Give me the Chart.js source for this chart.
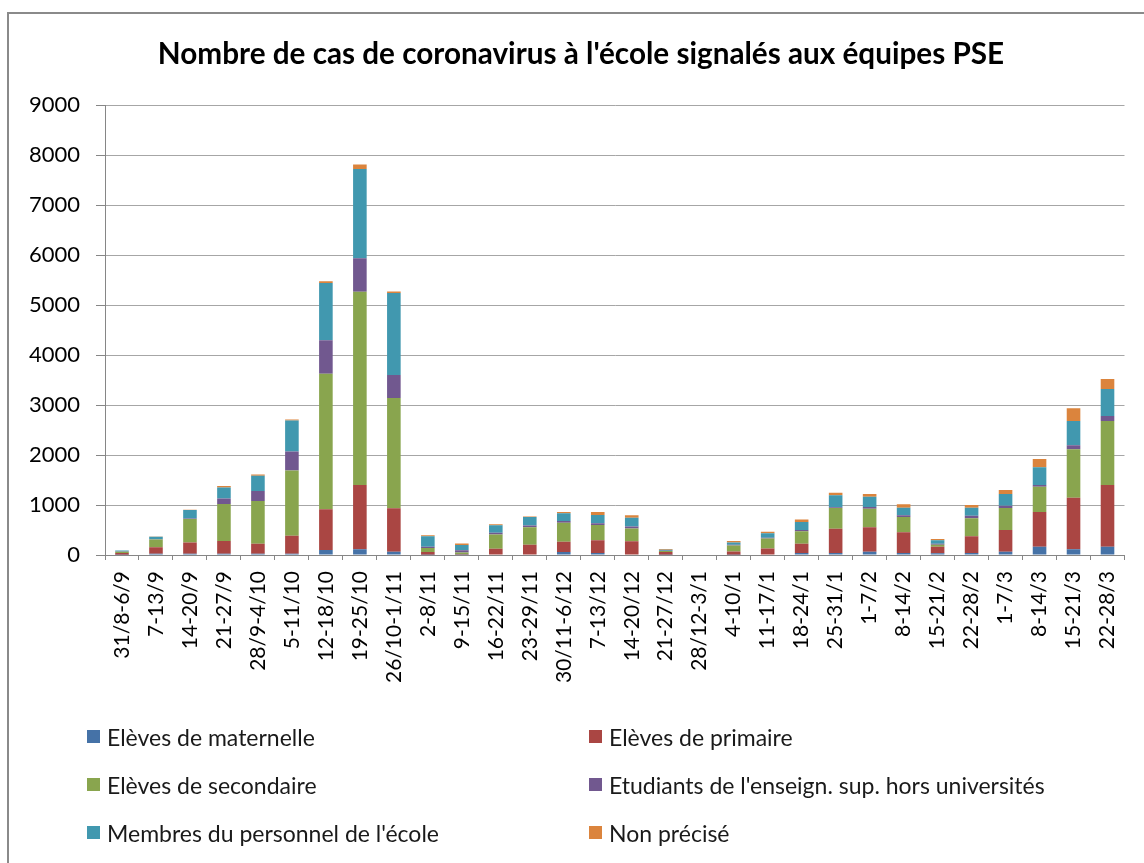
<!DOCTYPE html>
<html lang="fr">
<head>
<meta charset="utf-8">
<title>Cas de coronavirus PSE</title>
<script src="https://cdn.jsdelivr.net/npm/chart.js@4.4.1/dist/chart.umd.min.js"></script>
<style>
	body { margin: 0; background: #fff; }
	.wrap { position: relative; width: 1144px; height: 863px; overflow: hidden; }
	.frame { position: absolute; left: 7px; top: 12px; width: 1200px; height: 900px; border-left: 2px solid #8a8a8a; border-top: 2px solid #8a8a8a; }
	canvas { position: absolute; left: 0; top: 0; }
	.title { position: absolute; left: 0; width: 1162px; top: 35px; text-align: center; font-family: Lato, sans-serif; font-weight: bold; font-size: 29.7px; line-height: 36px; color: #000; white-space: nowrap; }
	.legend { position: absolute; left: 0; top: 0; font-family: Lato, sans-serif; font-size: 23px; color: #1a1a1a; }
	.legend-item { position: absolute; height: 28px; line-height: 28px; white-space: nowrap; }
	.legend-item span.box { position: absolute; left: 0; top: 7px; width: 13px; height: 13px; }
	.legend-item span.txt { position: absolute; left: 20px; top: 0; }
</style>
</head>
<body>
<div class="wrap">
	<div class="frame"></div>
	<canvas id="chart" width="1144" height="863"></canvas>
	<div class="title" id="title"></div>
	<div class="legend" id="legend"></div>
</div>
<script>
const chartTitle = "Nombre de cas de coronavirus à l'école signalés aux équipes PSE";

const categories = ['31/8-6/9', '7-13/9', '14-20/9', '21-27/9', '28/9-4/10', '5-11/10', '12-18/10', '19-25/10', '26/10-1/11', '2-8/11', '9-15/11', '16-22/11', '23-29/11', '30/11-6/12', '7-13/12', '14-20/12', '21-27/12', '28/12-3/1', '4-10/1', '11-17/1', '18-24/1', '25-31/1', '1-7/2', '8-14/2', '15-21/2', '22-28/2', '1-7/3', '8-14/3', '15-21/3', '22-28/3'];

const maternelle = [5, 25, 25, 25, 25, 25, 100, 113, 67, 5, 5, 10, 10, 60, 40, 10, 5, 0, 5, 10, 40, 40, 67, 40, 33, 40, 67, 167, 113, 167];
const primaire = [35, 130, 227, 253, 200, 360, 813, 1287, 867, 55, 10, 113, 193, 207, 253, 267, 55, 0, 67, 120, 187, 487, 487, 413, 133, 333, 433, 693, 1033, 1233];
const secondaire = [25, 155, 467, 740, 853, 1307, 2713, 3867, 2207, 80, 33, 287, 353, 380, 307, 253, 20, 0, 120, 200, 247, 413, 373, 307, 40, 360, 440, 507, 967, 1280];
const etudiants = [3, 5, 10, 113, 200, 380, 667, 667, 460, 27, 47, 33, 33, 33, 33, 40, 5, 0, 13, 13, 27, 13, 33, 33, 20, 53, 47, 33, 80, 100];
const personnel = [20, 50, 173, 220, 307, 620, 1147, 1787, 1640, 207, 107, 153, 173, 153, 167, 173, 20, 0, 47, 93, 160, 240, 207, 153, 67, 160, 233, 353, 487, 540];
const nonPrecise = [2, 5, 5, 27, 27, 20, 33, 87, 27, 20, 27, 20, 7, 27, 60, 53, 15, 0, 27, 27, 47, 53, 53, 67, 27, 53, 80, 167, 253, 200];

const yTicks = [0, 1000, 2000, 3000, 4000, 5000, 6000, 7000, 8000, 9000];

const seriesNames = ['Elèves de maternelle', 'Elèves de primaire', 'Elèves de secondaire', "Etudiants de l'enseign. sup. hors universités", "Membres du personnel de l'école", 'Non précisé'];
const seriesColors = ['#4572A7', '#AA4643', '#89A54E', '#71588F', '#4198AF', '#DB843D'];

window.addEventListener('DOMContentLoaded', () => {
	const seriesData = [maternelle, primaire, secondaire, etudiants, personnel, nonPrecise];
	const ctx = document.getElementById('chart').getContext('2d');

	document.getElementById('title').textContent = chartTitle;

	const chart = new Chart(ctx, {
		type: 'bar',
		data: {
			labels: categories,
			datasets: seriesNames.map((name, i) => ({
				label: name,
				data: seriesData[i],
				backgroundColor: seriesColors[i],
				borderWidth: 0,
				barPercentage: 0.4,
				categoryPercentage: 1.0
			}))
		},
		options: {
			responsive: false,
			devicePixelRatio: 1,
			animation: false,
			layout: {
				padding: { left: 0, right: 17, top: 105, bottom: 0 }
			},
			plugins: {
				legend: { display: false },
				tooltip: { enabled: false }
			},
			scales: {
				x: {
					stacked: true,
					afterFit: (scale) => { scale.height = 308; },
					grid: {
						display: true,
						drawOnChartArea: false,
						drawTicks: true,
						tickLength: 5,
						color: '#868686'
					},
					border: { display: true, color: '#868686' },
					ticks: {
						autoSkip: false,
						minRotation: 90,
						maxRotation: 90,
						padding: 11,
						color: '#000',
						font: { family: 'Lato', size: 21 }
					}
				},
				y: {
					stacked: true,
					min: 0,
					max: 9000,
					afterFit: (scale) => { scale.width = 105; },
					afterBuildTicks: (scale) => { scale.ticks = yTicks.map(v => ({ value: v })); },
					grid: {
						color: '#a6a6a6',
						tickLength: 9,
						tickColor: '#868686'
					},
					border: { display: true, color: '#868686' },
					ticks: {
						padding: 16,
						color: '#000',
						font: { family: 'Lato', size: 22 },
						callback: (value) => String(value)
					}
				}
			}
		}
	});

	// legend in two columns like the original
	const legend = document.getElementById('legend');
	const colX = [87, 589];
	const rowY = [723, 771, 819];
	chart.data.datasets.forEach((ds, i) => {
		const item = document.createElement('div');
		item.classList.add('legend-item');
		item.style.left = `${colX[i % 2]}px`;
		item.style.top = `${rowY[Math.floor(i / 2)]}px`;
		item.innerHTML = `<span class="box" style="background:${ds.backgroundColor}"></span><span class="txt">${ds.label}</span>`;
		legend.appendChild(item);
	});
});
</script>
</body>
</html>
